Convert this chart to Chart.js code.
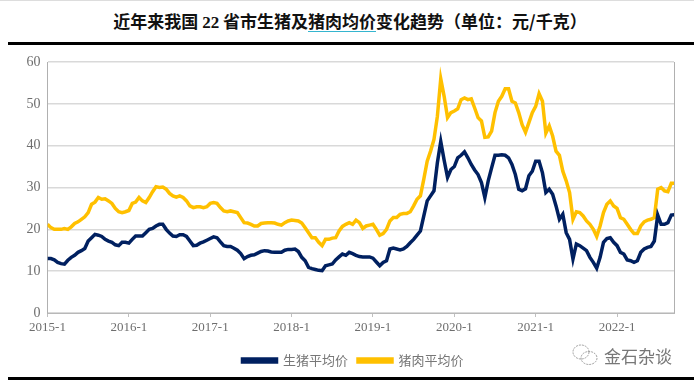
<!DOCTYPE html>
<html>
<head>
<meta charset="utf-8">
<script src="https://cdn.jsdelivr.net/npm/chart.js@4"></script>
<style>
  html, body { margin: 0; padding: 0; background: #fff; }
  #wrap { position: relative; width: 694px; height: 385px; overflow: hidden; }
  #chart { position: absolute; left: 0; top: 0; }
  #topline { position: absolute; left: 0; top: 0; width: 694px; height: 1px; background: #ddd; }
  #title { position: absolute; left: 3px; top: 8px; width: 694px; text-align: center; font: bold 17px "Noto Sans CJK SC", sans-serif; color: #111; white-space: nowrap; }
  #title b { font-family: "Liberation Serif", serif; }
  #title .mark { display: inline-block; line-height: 21px; border-bottom: 1.5px solid #35b5cf; }
  .rule { position: absolute; left: 8px; width: 686px; height: 3px; background: #000; }
  #mark { position: absolute; left: 604px; top: 343px; font: 17px "Noto Sans CJK SC", sans-serif; color: #777; }
  #icon { position: absolute; left: 572px; top: 343px; }
</style>
</head>
<body>
<div id="wrap">
  <div id="topline"></div>
  <div id="title">近年来我国 <b>22</b> 省市生猪及<span class="mark">猪肉均价</span>变化趋势（单位：元/千克）</div>
  <div class="rule" style="top:42px"></div>
  <canvas id="chart" width="694" height="385"></canvas>
  <div class="rule" style="top:377px"></div>
  <svg id="icon" width="26" height="24" viewBox="0 0 26 24" fill="none" stroke="#888" stroke-width="0.8" stroke-dasharray="2 1">
    <ellipse cx="9" cy="9" rx="8" ry="7"/>
    <ellipse cx="17" cy="15" rx="8" ry="6.5"/>
  </svg>
  <div id="mark">金石杂谈</div>
</div>
<script>
// half-month readings, 24 per year starting 2015-1
const hogPrice = [
  13, 13, 12.7, 12.1, 11.8, 11.7, 12.6, 13.3, 13.8, 14.5, 14.9, 15.4, 17.2, 18, 18.8, 18.6, 18.3, 17.6, 17.2, 16.9, 16.3, 16.1, 16.9, 16.9,
  16.7, 17.6, 18.4, 18.4, 18.4, 19.2, 20, 20.2, 20.8, 21.2, 21.2, 20, 19.1, 18.4, 18.3, 18.7, 18.7, 18.3, 17.2, 16.1, 16.2, 16.7, 17, 17.4,
  17.8, 18.2, 18, 17, 16.1, 15.9, 15.9, 15.5, 15, 14.2, 13, 13.5, 13.8, 13.9, 14.3, 14.7, 14.9, 14.8, 14.6, 14.5, 14.5, 14.5, 15, 15.2,
  15.2, 15.3, 14.7, 13.3, 12.5, 10.9, 10.6, 10.4, 10.2, 10.1, 11.3, 11.5, 11.7, 12.7, 13.4, 14.1, 13.8, 14.5, 14.2, 13.8, 13.5, 13.4, 13.4, 13.4,
  13.1, 12.2, 11.3, 12.1, 12.5, 15.3, 15.5, 15.3, 15.1, 15.3, 15.9, 16.8, 17.6, 18.6, 19.6, 23.2, 26.8, 28, 29.2, 35.9, 41, 36.5, 32.4, 34.3,
  35, 37.1, 37.7, 38.5, 37.1, 35.5, 34.2, 33.1, 31.2, 27.6, 31.6, 34.7, 37.7, 37.7, 37.8, 37.7, 37.1, 35.5, 33.1, 29.6, 29.2, 29.7, 32.8, 33.9,
  36.3, 36.3, 33.5, 28.8, 29.6, 28.4, 25.6, 22.4, 23.6, 19.2, 17.6, 12.9, 16.5, 16.1, 15.5, 14.9, 13.3, 12.1, 10.7, 13.3, 16.9, 17.8, 18, 16.9,
  16.1, 14.5, 14.1, 12.7, 12.5, 12.1, 12.5, 14.5, 15.3, 15.7, 15.9, 17.2, 23.4, 21.2, 21.2, 21.6, 23.4, 23.5
];
const porkPrice = [
  21.2, 20.4, 20, 20, 20, 20.2, 20, 20.6, 21.4, 21.8, 22.4, 23, 24, 26, 26.5, 27.6, 27.2, 27.3, 26.8, 26.2, 25, 24.2, 24, 24.2,
  24.5, 26.2, 26.5, 27.6, 26.8, 26.4, 27.6, 29, 30.2, 30, 30.1, 29.6, 28.6, 28, 27.7, 28, 27.6, 26.8, 25.6, 25.2, 25.4, 25.4, 25.2, 25.4,
  26.2, 26.4, 26.2, 25.2, 24.4, 24.2, 24.4, 24.2, 24, 22.8, 21.6, 21.5, 21.2, 20.8, 20.8, 21.4, 21.5, 21.6, 21.6, 21.5, 21.2, 21, 21.6, 22,
  22.2, 22.1, 22, 21.5, 20.4, 19.2, 18, 18, 16.9, 16.1, 17.6, 17.6, 17.9, 18, 19.6, 20.7, 21.2, 21.6, 21.2, 22.2, 21.6, 20.2, 20.8, 21,
  21.2, 20, 18.6, 19, 20, 22, 22.8, 22.8, 23.6, 23.8, 23.8, 24.2, 25.6, 27.2, 28, 32, 36.3, 38.7, 41.5, 47, 56, 51.8, 46.7, 47.9,
  48.3, 48.8, 51, 51.4, 51, 51.2, 49, 46.7, 45.9, 42, 42.1, 43.5, 47.9, 50.6, 51.8, 53.6, 53.6, 50.6, 50.2, 47.9, 45, 43.2, 45.5, 47.9,
  49.4, 52.4, 50.6, 43, 44.7, 42.3, 38.7, 37.7, 33.9, 31.6, 28.8, 22.4, 24.2, 24, 23.2, 22, 21.2, 20, 18.3, 20.8, 24, 26, 26.8, 25.6,
  25, 22.8, 22.4, 21.2, 20, 19, 19, 20.8, 21.8, 22.2, 22.4, 22.8, 29.6, 30, 29.2, 29, 31, 31
];
const yearLabels = ['2015-1', '2016-1', '2017-1', '2018-1', '2019-1', '2020-1', '2021-1', '2022-1'];
const yTicks = [0, 10, 20, 30, 40, 50, 60];
const seriesNames = ['生猪平均价', '猪肉平均价'];
const pointsPerYear = 24;

const toPoints = (values) => values.map((v, i) => ({ x: i, y: v }));

// right edge of the plot has a grey line, the library has no option for it
const rightBorder = {
  id: 'rightBorder',
  afterLayout(chart) {
    // legend is centred under the plot, not under the whole canvas
    chart.legend.left = 32;
  },
  beforeDatasetsDraw(chart) {
    const { ctx, chartArea } = chart;
    ctx.save();
    ctx.strokeStyle = '#b0b0b0';
    ctx.lineWidth = 1;
    ctx.beginPath();
    ctx.moveTo(chartArea.right + 0.5, chartArea.top);
    ctx.lineTo(chartArea.right + 0.5, chartArea.bottom);
    ctx.stroke();
    ctx.restore();
  }
};

new Chart(document.getElementById('chart').getContext('2d'), {
  type: 'line',
  data: {
    datasets: [
      { label: seriesNames[0], data: toPoints(hogPrice), borderColor: '#002060', backgroundColor: '#002060', borderWidth: 3.5, pointRadius: 0, tension: 0 },
      { label: seriesNames[1], data: toPoints(porkPrice), borderColor: '#FFC000', backgroundColor: '#FFC000', borderWidth: 3.5, pointRadius: 0, tension: 0 }
    ]
  },
  options: {
    responsive: false,
    animation: false,
    layout: { padding: { left: 0, right: 20, top: 62, bottom: 8 } },
    plugins: {
      title: { display: false },
      tooltip: { enabled: false },
      legend: {
        position: 'bottom',
        labels: { boxWidth: 34, boxHeight: 3, padding: 10, color: '#777', font: { family: '"Noto Sans CJK SC"', size: 13 } }
      }
    },
    scales: {
      x: {
        type: 'linear',
        min: 0,
        max: 184.8,
        afterFit(scale) { scale.height = 31; },
        grid: { drawOnChartArea: false, drawTicks: true, tickLength: 4, color: '#c0c0c0' },
        border: { color: '#b8b8b8', width: 1 },
        ticks: {
          stepSize: pointsPerYear,
          includeBounds: false,
          autoSkip: false,
          maxRotation: 0,
          padding: 3,
          color: '#6e6e6e',
          font: { family: '"Liberation Serif"', size: 13 },
          callback: (v) => yearLabels[v / pointsPerYear]
        }
      },
      y: {
        min: 0,
        max: 60,
        afterFit(scale) { scale.width = 47.5; },
        afterBuildTicks(scale) { scale.ticks = yTicks.map((v) => ({ value: v })); },
        grid: { color: '#d9d9d9', lineWidth: 1.5, drawTicks: false },
        border: { color: '#b0b0b0', width: 1 },
        ticks: {
          padding: 7,
          color: '#6e6e6e',
          font: { family: '"Liberation Serif"', size: 14 }
        }
      }
    }
  },
  plugins: [rightBorder]
});
</script>
</body>
</html>
